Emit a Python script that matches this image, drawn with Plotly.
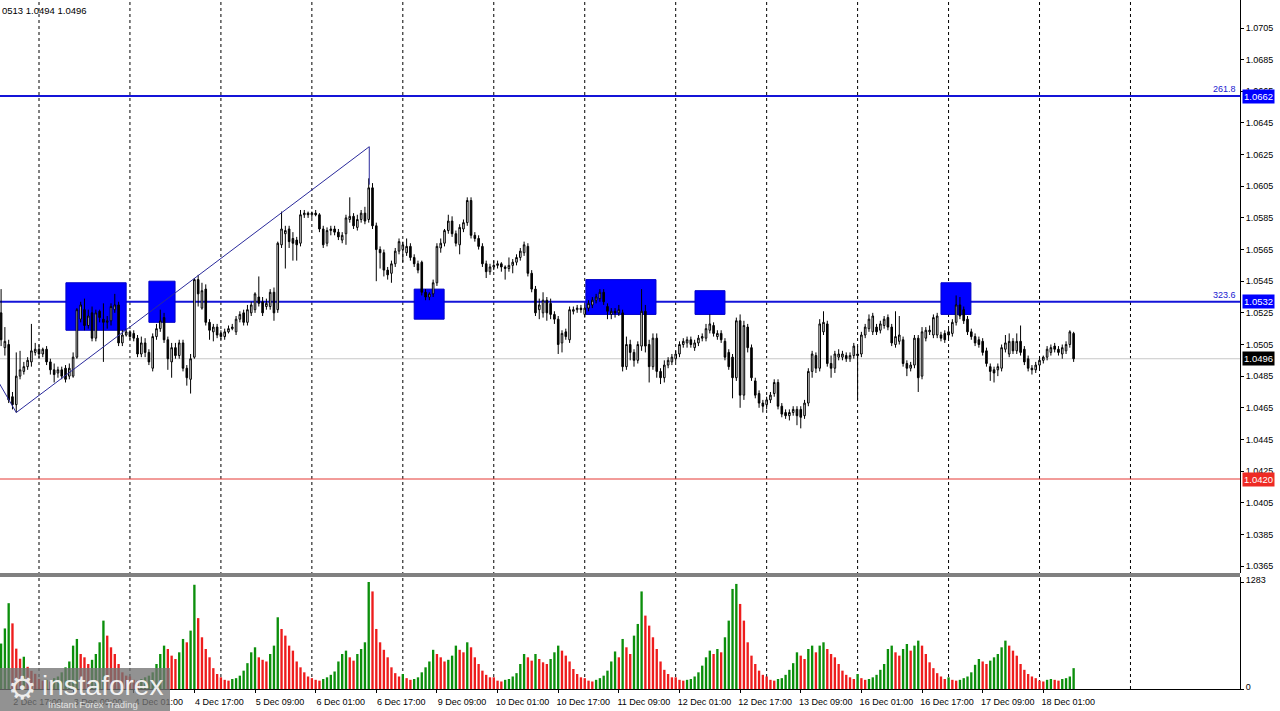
import pandas as pd
import plotly.graph_objects as go

# ---------------- data (EURUSD H1) ----------------
open_ = [1.0525, 1.0503, 1.0505, 1.0472, 1.0467, 1.0485, 1.0488, 1.0491, 1.0494, 1.0500,
         1.0502, 1.0499, 1.0502, 1.0494, 1.0489, 1.0487, 1.0489, 1.0490, 1.0485, 1.0485,
         1.0497, 1.0521, 1.0527, 1.0517, 1.0525, 1.0509, 1.0526, 1.0521, 1.0519, 1.0520,
         1.0527, 1.0530, 1.0506, 1.0511, 1.0513, 1.0512, 1.0509, 1.0499, 1.0506, 1.0500,
         1.0490, 1.0510, 1.0515, 1.0522, 1.0508, 1.0494, 1.0503, 1.0498, 1.0506, 1.0490,
         1.0483, 1.0497, 1.0546, 1.0528, 1.0540, 1.0519, 1.0513, 1.0516, 1.0512, 1.0510,
         1.0513, 1.0515, 1.0513, 1.0521, 1.0525, 1.0519, 1.0525, 1.0527, 1.0535, 1.0532,
         1.0529, 1.0529, 1.0538, 1.0527, 1.0568, 1.0575, 1.0578, 1.0572, 1.0571, 1.0569,
         1.0587, 1.0588, 1.0587, 1.0588, 1.0587, 1.0578, 1.0569, 1.0577, 1.0578, 1.0576,
         1.0571, 1.0575, 1.0584, 1.0586, 1.0579, 1.0584, 1.0588, 1.0584, 1.0604, 1.0580,
         1.0565, 1.0563, 1.0552, 1.0550, 1.0556, 1.0564, 1.0565, 1.0563, 1.0567, 1.0560,
         1.0556, 1.0557, 1.0538, 1.0535, 1.0537, 1.0544, 1.0566, 1.0569, 1.0577, 1.0583,
         1.0575, 1.0568, 1.0578, 1.0582, 1.0596, 1.0574, 1.0572, 1.0567, 1.0556, 1.0551,
         1.0554, 1.0555, 1.0556, 1.0554, 1.0553, 1.0555, 1.0557, 1.0560, 1.0563, 1.0567,
         1.0550, 1.0540, 1.0527, 1.0525, 1.0533, 1.0531, 1.0524, 1.0521, 1.0506, 1.0513,
         1.0508, 1.0526, 1.0527, 1.0528, 1.0524, 1.0528, 1.0530, 1.0533, 1.0534, 1.0538,
         1.0529, 1.0524, 1.0526, 1.0525, 1.0525, 1.0491, 1.0505, 1.0500, 1.0495, 1.0504,
         1.0526, 1.0505, 1.0491, 1.0509, 1.0488, 1.0484, 1.0492, 1.0494, 1.0496, 1.0499,
         1.0505, 1.0506, 1.0508, 1.0503, 1.0506, 1.0509, 1.0509, 1.0514, 1.0517, 1.0510,
         1.0512, 1.0507, 1.0500, 1.0497, 1.0484, 1.0520, 1.0473, 1.0516, 1.0503, 1.0482,
         1.0474, 1.0468, 1.0467, 1.0470, 1.0474, 1.0481, 1.0466, 1.0462, 1.0460, 1.0462,
         1.0464, 1.0464, 1.0460, 1.0468, 1.0488, 1.0498, 1.0490, 1.0513, 1.0518, 1.0493,
         1.0490, 1.0497, 1.0497, 1.0498, 1.0496, 1.0498, 1.0499, 1.0499, 1.0511, 1.0515,
         1.0513, 1.0516, 1.0514, 1.0517, 1.0522, 1.0516, 1.0505, 1.0507, 1.0508, 1.0493,
         1.0490, 1.0492, 1.0509, 1.0485, 1.0509, 1.0513, 1.0511, 1.0511, 1.0511, 1.0512,
         1.0513, 1.0512, 1.0519, 1.0530, 1.0527, 1.0521, 1.0513, 1.0510, 1.0508, 1.0507,
         1.0501, 1.0491, 1.0489, 1.0489, 1.0490, 1.0502, 1.0499, 1.0507, 1.0501, 1.0507,
         1.0502, 1.0496, 1.0490, 1.0489, 1.0492, 1.0495, 1.0497, 1.0500, 1.0504, 1.0502,
         1.0499, 1.0501, 1.0505, 1.0512]
high = [1.0540, 1.0516, 1.0508, 1.0475, 1.0500, 1.0501, 1.0494, 1.0497, 1.0518, 1.0506,
        1.0505, 1.0503, 1.0504, 1.0496, 1.0493, 1.0491, 1.0491, 1.0492, 1.0493, 1.0500,
        1.0528, 1.0532, 1.0534, 1.0527, 1.0529, 1.0527, 1.0527, 1.0531, 1.0523, 1.0531,
        1.0537, 1.0532, 1.0514, 1.0515, 1.0514, 1.0514, 1.0511, 1.0510, 1.0509, 1.0502,
        1.0512, 1.0518, 1.0527, 1.0525, 1.0510, 1.0506, 1.0506, 1.0508, 1.0508, 1.0492,
        1.0499, 1.0547, 1.0549, 1.0544, 1.0543, 1.0521, 1.0518, 1.0518, 1.0514, 1.0515,
        1.0517, 1.0518, 1.0523, 1.0526, 1.0527, 1.0530, 1.0532, 1.0538, 1.0548, 1.0535,
        1.0534, 1.0540, 1.0541, 1.0570, 1.0589, 1.0580, 1.0580, 1.0576, 1.0573, 1.0590,
        1.0590, 1.0589, 1.0589, 1.0590, 1.0588, 1.0580, 1.0579, 1.0580, 1.0580, 1.0578,
        1.0576, 1.0587, 1.0598, 1.0588, 1.0587, 1.0590, 1.0592, 1.0610, 1.0607, 1.0582,
        1.0567, 1.0565, 1.0554, 1.0558, 1.0566, 1.0572, 1.0570, 1.0572, 1.0569, 1.0562,
        1.0558, 1.0558, 1.0540, 1.0538, 1.0546, 1.0569, 1.0572, 1.0578, 1.0587, 1.0586,
        1.0577, 1.0581, 1.0584, 1.0598, 1.0598, 1.0576, 1.0574, 1.0569, 1.0558, 1.0556,
        1.0558, 1.0558, 1.0557, 1.0555, 1.0560, 1.0559, 1.0562, 1.0566, 1.0570, 1.0569,
        1.0552, 1.0542, 1.0534, 1.0538, 1.0535, 1.0534, 1.0526, 1.0523, 1.0514, 1.0515,
        1.0529, 1.0529, 1.0530, 1.0530, 1.0530, 1.0533, 1.0535, 1.0537, 1.0540, 1.0540,
        1.0531, 1.0528, 1.0528, 1.0530, 1.0527, 1.0510, 1.0508, 1.0502, 1.0507, 1.0540,
        1.0530, 1.0508, 1.0512, 1.0512, 1.0490, 1.0495, 1.0497, 1.0499, 1.0501, 1.0507,
        1.0509, 1.0510, 1.0510, 1.0508, 1.0511, 1.0512, 1.0518, 1.0524, 1.0519, 1.0514,
        1.0514, 1.0509, 1.0502, 1.0499, 1.0522, 1.0524, 1.0520, 1.0518, 1.0505, 1.0484,
        1.0476, 1.0470, 1.0472, 1.0475, 1.0483, 1.0483, 1.0468, 1.0464, 1.0464, 1.0466,
        1.0466, 1.0466, 1.0470, 1.0490, 1.0501, 1.0500, 1.0521, 1.0526, 1.0520, 1.0498,
        1.0501, 1.0502, 1.0501, 1.0500, 1.0500, 1.0506, 1.0504, 1.0513, 1.0518, 1.0524,
        1.0525, 1.0518, 1.0520, 1.0523, 1.0524, 1.0518, 1.0526, 1.0523, 1.0510, 1.0495,
        1.0494, 1.0511, 1.0511, 1.0516, 1.0516, 1.0517, 1.0524, 1.0525, 1.0513, 1.0514,
        1.0515, 1.0521, 1.0536, 1.0535, 1.0529, 1.0523, 1.0515, 1.0512, 1.0510, 1.0509,
        1.0503, 1.0493, 1.0491, 1.0493, 1.0505, 1.0511, 1.0512, 1.0509, 1.0512, 1.0517,
        1.0504, 1.0498, 1.0492, 1.0494, 1.0497, 1.0498, 1.0504, 1.0505, 1.0506, 1.0504,
        1.0505, 1.0507, 1.0514, 1.0513]
low = [1.0504, 1.0498, 1.0468, 1.0464, 1.0462, 1.0483, 1.0486, 1.0489, 1.0491, 1.0498,
       1.0496, 1.0497, 1.0492, 1.0486, 1.0481, 1.0484, 1.0483, 1.0481, 1.0483, 1.0484,
       1.0496, 1.0519, 1.0514, 1.0515, 1.0507, 1.0507, 1.0519, 1.0494, 1.0515, 1.0517,
       1.0525, 1.0504, 1.0504, 1.0510, 1.0508, 1.0507, 1.0497, 1.0497, 1.0497, 1.0492,
       1.0488, 1.0508, 1.0513, 1.0506, 1.0489, 1.0484, 1.0496, 1.0496, 1.0488, 1.0479,
       1.0474, 1.0496, 1.0529, 1.0527, 1.0517, 1.0508, 1.0507, 1.0509, 1.0508, 1.0508,
       1.0512, 1.0514, 1.0511, 1.0519, 1.0517, 1.0517, 1.0523, 1.0525, 1.0529, 1.0523,
       1.0527, 1.0527, 1.0520, 1.0525, 1.0566, 1.0553, 1.0566, 1.0558, 1.0558, 1.0567,
       1.0585, 1.0585, 1.0585, 1.0586, 1.0576, 1.0566, 1.0567, 1.0574, 1.0574, 1.0571,
       1.0569, 1.0568, 1.0582, 1.0578, 1.0577, 1.0582, 1.0581, 1.0582, 1.0578, 1.0545,
       1.0553, 1.0548, 1.0546, 1.0544, 1.0554, 1.0562, 1.0557, 1.0561, 1.0558, 1.0554,
       1.0550, 1.0536, 1.0533, 1.0533, 1.0535, 1.0542, 1.0563, 1.0567, 1.0575, 1.0573,
       1.0567, 1.0562, 1.0576, 1.0580, 1.0572, 1.0570, 1.0565, 1.0554, 1.0547, 1.0549,
       1.0552, 1.0553, 1.0551, 1.0546, 1.0551, 1.0550, 1.0555, 1.0558, 1.0561, 1.0548,
       1.0538, 1.0523, 1.0521, 1.0522, 1.0520, 1.0521, 1.0518, 1.0499, 1.0500, 1.0508,
       1.0506, 1.0524, 1.0525, 1.0525, 1.0522, 1.0526, 1.0528, 1.0531, 1.0532, 1.0530,
       1.0521, 1.0521, 1.0522, 1.0523, 1.0488, 1.0489, 1.0495, 1.0491, 1.0493, 1.0501,
       1.0500, 1.0481, 1.0489, 1.0484, 1.0480, 1.0481, 1.0490, 1.0492, 1.0494, 1.0497,
       1.0503, 1.0503, 1.0503, 1.0501, 1.0504, 1.0507, 1.0507, 1.0512, 1.0510, 1.0508,
       1.0506, 1.0495, 1.0489, 1.0471, 1.0482, 1.0465, 1.0470, 1.0500, 1.0482, 1.0471,
       1.0465, 1.0462, 1.0464, 1.0468, 1.0472, 1.0464, 1.0459, 1.0458, 1.0457, 1.0460,
       1.0454, 1.0452, 1.0458, 1.0466, 1.0484, 1.0487, 1.0488, 1.0511, 1.0491, 1.0484,
       1.0487, 1.0495, 1.0495, 1.0494, 1.0494, 1.0496, 1.0470, 1.0497, 1.0509, 1.0513,
       1.0511, 1.0511, 1.0512, 1.0515, 1.0514, 1.0504, 1.0503, 1.0505, 1.0491, 1.0485,
       1.0488, 1.0490, 1.0475, 1.0483, 1.0507, 1.0511, 1.0509, 1.0509, 1.0507, 1.0506,
       1.0509, 1.0510, 1.0517, 1.0521, 1.0518, 1.0511, 1.0508, 1.0504, 1.0503, 1.0498,
       1.0491, 1.0482, 1.0481, 1.0485, 1.0488, 1.0500, 1.0497, 1.0499, 1.0499, 1.0498,
       1.0492, 1.0488, 1.0486, 1.0487, 1.0490, 1.0493, 1.0495, 1.0498, 1.0500, 1.0498,
       1.0496, 1.0499, 1.0503, 1.0494]
close = [1.0508, 1.0507, 1.0470, 1.0467, 1.0485, 1.0489, 1.0491, 1.0495, 1.0501, 1.0502,
         1.0499, 1.0502, 1.0494, 1.0489, 1.0486, 1.0489, 1.0485, 1.0483, 1.0490, 1.0497,
         1.0527, 1.0530, 1.0517, 1.0523, 1.0509, 1.0525, 1.0522, 1.0519, 1.0520, 1.0529,
         1.0530, 1.0506, 1.0511, 1.0513, 1.0510, 1.0509, 1.0499, 1.0506, 1.0500, 1.0494,
         1.0510, 1.0515, 1.0520, 1.0508, 1.0496, 1.0503, 1.0498, 1.0506, 1.0490, 1.0484,
         1.0496, 1.0546, 1.0537, 1.0539, 1.0519, 1.0514, 1.0516, 1.0511, 1.0510, 1.0513,
         1.0515, 1.0516, 1.0521, 1.0524, 1.0519, 1.0527, 1.0530, 1.0537, 1.0531, 1.0525,
         1.0531, 1.0538, 1.0525, 1.0569, 1.0578, 1.0577, 1.0570, 1.0569, 1.0568, 1.0587,
         1.0588, 1.0587, 1.0588, 1.0587, 1.0578, 1.0568, 1.0577, 1.0578, 1.0576, 1.0573,
         1.0574, 1.0585, 1.0586, 1.0580, 1.0584, 1.0588, 1.0583, 1.0604, 1.0580, 1.0565,
         1.0563, 1.0552, 1.0549, 1.0556, 1.0564, 1.0570, 1.0568, 1.0567, 1.0560, 1.0556,
         1.0552, 1.0538, 1.0535, 1.0537, 1.0544, 1.0567, 1.0569, 1.0577, 1.0583, 1.0575,
         1.0569, 1.0579, 1.0582, 1.0596, 1.0574, 1.0572, 1.0567, 1.0556, 1.0551, 1.0554,
         1.0555, 1.0556, 1.0554, 1.0553, 1.0555, 1.0557, 1.0560, 1.0564, 1.0568, 1.0550,
         1.0540, 1.0525, 1.0530, 1.0533, 1.0525, 1.0524, 1.0521, 1.0505, 1.0512, 1.0510,
         1.0527, 1.0527, 1.0528, 1.0527, 1.0528, 1.0531, 1.0533, 1.0535, 1.0538, 1.0532,
         1.0526, 1.0526, 1.0525, 1.0527, 1.0491, 1.0505, 1.0500, 1.0495, 1.0505, 1.0526,
         1.0504, 1.0491, 1.0509, 1.0488, 1.0484, 1.0492, 1.0495, 1.0497, 1.0499, 1.0505,
         1.0507, 1.0508, 1.0505, 1.0506, 1.0509, 1.0510, 1.0515, 1.0518, 1.0512, 1.0512,
         1.0508, 1.0497, 1.0491, 1.0484, 1.0520, 1.0473, 1.0517, 1.0503, 1.0484, 1.0473,
         1.0468, 1.0466, 1.0470, 1.0473, 1.0481, 1.0466, 1.0461, 1.0460, 1.0462, 1.0464,
         1.0460, 1.0459, 1.0468, 1.0488, 1.0499, 1.0490, 1.0518, 1.0519, 1.0493, 1.0490,
         1.0499, 1.0499, 1.0499, 1.0496, 1.0498, 1.0504, 1.0498, 1.0511, 1.0516, 1.0521,
         1.0523, 1.0513, 1.0518, 1.0521, 1.0516, 1.0506, 1.0510, 1.0511, 1.0493, 1.0490,
         1.0492, 1.0509, 1.0484, 1.0513, 1.0514, 1.0514, 1.0522, 1.0523, 1.0509, 1.0508,
         1.0511, 1.0519, 1.0530, 1.0523, 1.0520, 1.0513, 1.0510, 1.0506, 1.0505, 1.0500,
         1.0493, 1.0488, 1.0487, 1.0491, 1.0503, 1.0506, 1.0507, 1.0501, 1.0507, 1.0500,
         1.0494, 1.0490, 1.0489, 1.0492, 1.0495, 1.0497, 1.0502, 1.0503, 1.0502, 1.0500,
         1.0503, 1.0505, 1.0513, 1.0496]
volume = [545, 726, 1029, 787, 484, 363, 387, 266, 218, 182,
          120, 100, 110, 90, 130, 150, 200, 260, 330, 520, 600, 420, 380, 300,
          350, 420, 560, 820, 640, 500, 420, 300, 200, 160,
          150, 110, 100, 120, 140, 160, 200, 300, 420, 520, 480, 400, 360, 440,
          600, 560, 700, 1250, 850, 620, 480, 380, 250, 180,
          140, 110, 100, 120, 130, 160, 220, 310, 440, 500, 380, 350, 330, 420,
          520, 860, 720, 640, 520, 460, 330, 260, 200, 150,
          130, 110, 100, 120, 140, 170, 210, 330, 420, 460, 380, 340, 420, 480,
          560, 1283, 1170, 720, 560, 470, 380, 260, 190, 150,
          180, 130, 110, 120, 140, 200, 260, 330, 470, 420, 380, 330, 350, 400,
          520, 470, 440, 560, 500, 380, 300, 220, 170, 140,
          140, 100, 90, 110, 120, 150, 190, 300, 420, 380, 340, 420, 360, 320,
          300, 360, 440, 520, 460, 400, 330, 240, 180, 140,
          130, 100, 90, 110, 130, 160, 220, 330, 450, 380, 600, 500, 420, 640,
          780, 1170, 880, 760, 620, 480, 330, 230, 180, 140,
          140, 110, 100, 110, 120, 150, 200, 280, 380, 460, 420, 480, 440, 620,
          820, 1200, 1260, 1020, 820, 560, 400, 300, 220, 170,
          150, 110, 100, 120, 130, 170, 230, 310, 440, 400, 360, 480, 520, 440,
          520, 560, 480, 420, 380, 300, 220, 170, 140, 120,
          180, 130, 110, 120, 140, 170, 230, 300, 480, 520, 440, 400, 480, 540,
          460, 520, 580, 520, 420, 320, 250, 190, 150, 120,
          140, 110, 100, 110, 130, 150, 200, 290, 360, 330, 300, 340, 380, 420,
          500, 580, 520, 460, 400, 300, 230, 180, 150, 130,
          100, 90, 110, 120, 110, 100, 120, 130, 150, 250]

first_bar = "2024-12-02 14:00"
tick_labels = ["2 Dec 17:00", "3 Dec 09:00", "4 Dec 01:00", "4 Dec 17:00", "5 Dec 09:00",
               "6 Dec 01:00", "6 Dec 17:00", "9 Dec 09:00", "10 Dec 01:00", "10 Dec 17:00",
               "11 Dec 09:00", "12 Dec 01:00", "12 Dec 17:00", "13 Dec 09:00", "16 Dec 01:00",
               "16 Dec 17:00", "17 Dec 09:00", "18 Dec 01:00"]
price_ticks = [1.0365, 1.0385, 1.0405, 1.0425, 1.0445, 1.0465, 1.0485, 1.0505, 1.0525,
               1.0545, 1.0565, 1.0585, 1.0605, 1.0625, 1.0645, 1.0665, 1.0685, 1.0705]
volume_ticks = [0, 1283]
header_text = "0513 1.0494 1.0496"

# analyst drawings (bar index / price)
zones = [(17.1, 33.0, 1.0514, 1.0544), (39.0, 45.9, 1.0519, 1.0545),
         (109.0, 116.9, 1.0521, 1.0540), (154.3, 172.8, 1.0524, 1.0546),
         (183.1, 191.0, 1.0524, 1.0539), (248.0, 255.9, 1.0524, 1.0544)]
fib_points = [(-4.0, 1.0495), (4.0, 1.0462), (97.15, 1.0630), (97.15, 1.0606)]
levels = [(1.0662, "#1414d8", 2, "261.8", "#0000ff"),
          (1.0532, "#1414d8", 2, "323.6", "#0000ff"),
          (1.0496, "#c8c8c8", 1, None, "#000000"),
          (1.0420, "#e53935", 1, None, "#ee2a24")]

# ---------------- time axis ----------------
hours = pd.date_range(first_bar, "2024-12-19 23:00", freq="h")
times = hours[hours.dayofweek < 5]
n = len(close)
x = list(range(n))
fmt = [f"{t.day} {t:%b %H:%M}" for t in times]
label_idx = [fmt.index(lbl) for lbl in tick_labels]
midnights = [i for i, t in enumerate(times) if t.hour == 0 and i < 326]

vol_colors = ["#0b8f0b"] + ["#0b8f0b" if volume[i] > volume[i - 1] else "#ee1c1c"
                            for i in range(1, n)]

# ---------------- figure ----------------
W, H = 1280, 711
ML, MR, MT, MB = 0, 40, 0, 22
PW, PH = W - ML - MR, H - MT - MB
xr = [-0.29, 326.9]
main_dom = [(PH - 573) / PH, 1]
vol_dom = [0, (PH - 577) / PH]

fig = go.Figure()
fig.add_trace(go.Bar(x=x, y=volume, marker=dict(color=vol_colors, line=dict(width=0)),
                     width=0.62, xaxis="x2", yaxis="y2", hoverinfo="skip"))
fig.add_trace(go.Candlestick(
    x=x, open=open_, high=high, low=low, close=close,
    increasing=dict(line=dict(color="black", width=1), fillcolor="white"),
    decreasing=dict(line=dict(color="black", width=1), fillcolor="black"),
    whiskerwidth=0, xaxis="x", yaxis="y", hoverinfo="skip"))

shapes = []
for i in midnights:
    shapes.append(dict(type="line", xref="x", yref="paper", x0=i, x1=i, y0=0, y1=1,
                       line=dict(color="black", width=1, dash="3px,3px"), layer="below"))
for (a, b, lo, hi) in zones:
    shapes.append(dict(type="rect", xref="x", yref="y", x0=a, x1=b, y0=lo, y1=hi,
                       fillcolor="#0000ff", line=dict(color="#0000c8", width=1), layer="below"))
for (lv, col, w, lab, tagc) in levels:
    shapes.append(dict(type="line", xref="paper", yref="y", x0=0, x1=1, y0=lv, y1=lv,
                       line=dict(color=col, width=w), layer="below"))
for k in range(len(fib_points) - 1):
    (xa, ya), (xb, yb) = fib_points[k], fib_points[k + 1]
    shapes.append(dict(type="line", xref="x", yref="y", x0=xa, y0=ya, x1=xb, y1=yb,
                       line=dict(color="#2a2a9c", width=1), layer="above"))
sep_y = (PH - 575) / PH
shapes.append(dict(type="line", xref="paper", yref="paper", x0=0, x1=1, y0=sep_y, y1=sep_y,
                   line=dict(color="#808080", width=4), layer="above"))
# logo box
shapes.append(dict(type="rect", xref="paper", yref="paper", x0=0, x1=170 / PW,
                   y0=(PH - 711) / PH, y1=(PH - 668) / PH,
                   fillcolor="rgba(115,115,115,0.78)", line=dict(width=0), layer="above"))

font = "Liberation Sans, Arial, sans-serif"
ann = []
ann.append(dict(text=header_text, xref="paper", yref="paper", x=0, y=1, xanchor="left",
                yanchor="top", yshift=-3, showarrow=False, font=dict(family=font, size=9.5, color="black")))
for (lv, col, w, lab, tagc) in levels:
    ann.append(dict(text=f"{lv:.4f}", xref="paper", yref="y", x=1, y=lv, xanchor="left",
                    yanchor="middle", xshift=2, showarrow=False, bgcolor=tagc, borderpad=1,
                    font=dict(family=font, size=9.5, color="white")))
    if lab:
        ann.append(dict(text=lab, xref="paper", yref="y", x=1, y=lv, xanchor="right",
                        yanchor="bottom", xshift=-2, yshift=0, showarrow=False,
                        font=dict(family=font, size=9, color="#2020d0")))
ann.append(dict(text="⚙", xref="paper", yref="paper", x=22 / PW, y=(PH - 688) / PH,
                xanchor="center", yanchor="middle", showarrow=False,
                font=dict(family="DejaVu Sans", size=32, color="rgba(255,255,255,0.85)")))
ann.append(dict(text="instaforex", xref="paper", yref="paper", x=40 / PW, y=(PH - 685) / PH,
                xanchor="left", yanchor="middle", showarrow=False,
                font=dict(family=font, size=28, color="rgba(255,255,255,0.9)")))
ann.append(dict(text="Instant Forex Trading", xref="paper", yref="paper", x=46 / PW,
                y=(PH - 704) / PH, xanchor="left", yanchor="middle", showarrow=False,
                font=dict(family=font, size=9.5, color="rgba(255,255,255,0.75)")))

tickfont = dict(family=font, size=9, color="black")
fig.update_layout(
    width=W, height=H, margin=dict(l=ML, r=MR, t=MT, b=MB, pad=0),
    template="none", paper_bgcolor="white", plot_bgcolor="white",
    showlegend=False, boxgap=0.4, bargap=0.3,
    xaxis=dict(domain=[0, 1], anchor="y", range=xr, showticklabels=False, ticks="",
               showgrid=False, zeroline=False, showline=False,
               rangeslider=dict(visible=False), automargin=False),
    xaxis2=dict(domain=[0, 1], anchor="y2", range=xr, tickmode="array", tickvals=label_idx,
                ticktext=tick_labels, ticks="outside", ticklen=3, tickcolor="black",
                showline=True, linecolor="black", linewidth=1, showgrid=False, zeroline=False,
                tickfont=tickfont, ticklabelshift=25, ticklabelstandoff=1, automargin=False),
    yaxis=dict(domain=main_dom, anchor="x", range=[1.03606, 1.07227], side="right",
               tickmode="array", tickvals=price_ticks, ticktext=[f"{v:.4f}" for v in price_ticks],
               ticks="outside", ticklen=3, tickcolor="black", showline=True,
               linecolor="black", linewidth=1, showgrid=False, zeroline=False,
               tickfont=tickfont, automargin=False),
    yaxis2=dict(domain=vol_dom, anchor="x2", range=[0, 1343], side="right",
                tickmode="array", tickvals=volume_ticks, ticktext=[str(v) for v in volume_ticks],
                ticks="outside", ticklen=3, tickcolor="black", showline=True,
                linecolor="black", linewidth=1, showgrid=False, zeroline=False,
                tickfont=tickfont, ticklabelshift=-2, automargin=False),
    shapes=shapes, annotations=ann,
)

fig.write_html("out.html", config={"displayModeBar": False},
               post_script="document.body.style.margin='0';document.body.style.overflow='hidden';")
